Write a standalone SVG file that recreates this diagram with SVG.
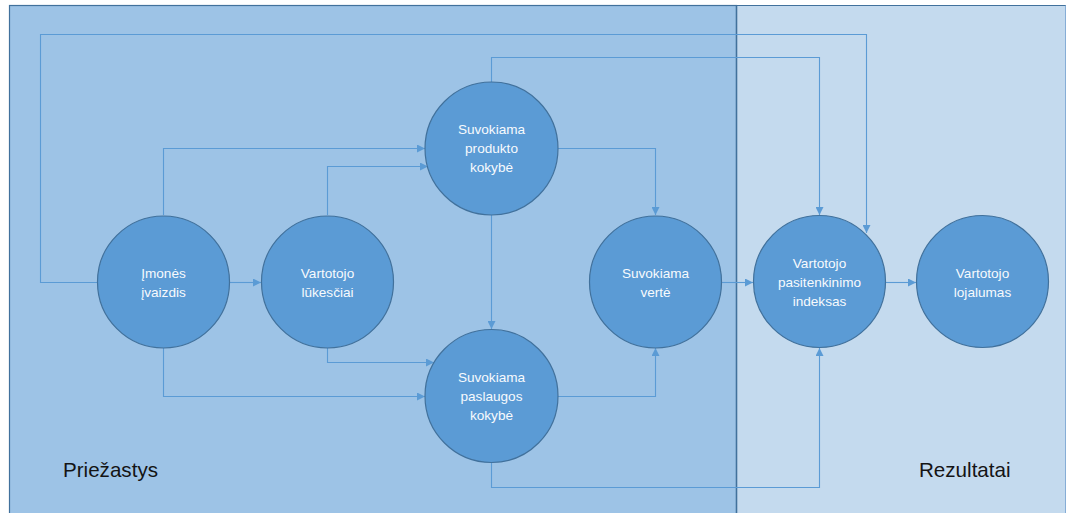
<svg xmlns="http://www.w3.org/2000/svg" width="1068" height="513" viewBox="0 0 1068 513">
  <style>
    .node circle { fill: #5B9BD5; stroke: #41719C; stroke-width: 1.2; }
    .node text { font-family: "Liberation Sans", Arial, sans-serif; font-size: 13.6px; fill: #F7FAFD; text-anchor: middle; }
    .conn path { fill: none; stroke: #5B9BD5; stroke-width: 1.1; marker-end: url(#arr); }
    .title { font-family: "Liberation Sans", Arial, sans-serif; font-size: 20.6px; fill: #141414; }
  </style>
  <defs>
    <marker id="arr" markerUnits="userSpaceOnUse" markerWidth="9" markerHeight="8" refX="8" refY="4" orient="auto">
      <path d="M0,0 L8,4 L0,8 z" fill="#5B9BD5"/>
    </marker>
  </defs>
  <rect x="0" y="0" width="1068" height="513" fill="#FFFFFF"/>
  <g id="panels">
    <rect x="736.5" y="5.5" width="329" height="520" fill="#C4DAEE" stroke="#86ADD6" stroke-width="1"/>
    <rect x="9.5" y="5.5" width="727" height="520" fill="#9DC3E6" stroke="#41719C" stroke-width="1.2"/>
    <line x1="736.5" y1="5.5" x2="1065.5" y2="5.5" stroke="#41719C" stroke-width="1.2"/>
    <line x1="736.5" y1="5.5" x2="736.5" y2="513" stroke="#41719C" stroke-width="1.4"/>
  </g>
  <g class="conn" id="connectors">
    <path d="M98,282.5 H40.5 V34.5 H866.5 V233"/>
    <path d="M163.5,215 V148.5 H425"/>
    <path d="M327.5,215 V166.5 H428"/>
    <path d="M230,282.5 H261"/>
    <path d="M327.5,348 V362.5 H434"/>
    <path d="M163.5,348 V396.5 H425"/>
    <path d="M491.5,82 V57.5 H819.5 V215"/>
    <path d="M557,148.5 H655.5 V215"/>
    <path d="M491.5,215 V329"/>
    <path d="M557,396.5 H655.5 V348"/>
    <path d="M491.5,463 V487.5 H819.5 V348"/>
    <path d="M721,282.5 H753"/>
    <path d="M885,282.5 H916"/>
  </g>
  <g class="node" id="imones-ivaizdis">
    <circle cx="163.5" cy="282" r="66"/>
    <text x="163.5" y="278">Įmonės</text>
    <text x="163.5" y="297">įvaizdis</text>
  </g>
  <g class="node" id="vartotojo-lukesciai">
    <circle cx="327.5" cy="282" r="66"/>
    <text x="327.5" y="278">Vartotojo</text>
    <text x="327.5" y="297">lūkesčiai</text>
  </g>
  <g class="node" id="produkto-kokybe">
    <circle cx="491.5" cy="148.5" r="66.5"/>
    <text x="491.5" y="134">Suvokiama</text>
    <text x="491.5" y="153">produkto</text>
    <text x="491.5" y="172">kokybė</text>
  </g>
  <g class="node" id="paslaugos-kokybe">
    <circle cx="491.5" cy="396" r="66.5"/>
    <text x="491.5" y="382">Suvokiama</text>
    <text x="491.5" y="401">paslaugos</text>
    <text x="491.5" y="420">kokybė</text>
  </g>
  <g class="node" id="suvokiama-verte">
    <circle cx="655.5" cy="282" r="66"/>
    <text x="655.5" y="278">Suvokiama</text>
    <text x="655.5" y="297">vertė</text>
  </g>
  <g class="node" id="pasitenkinimo-indeksas">
    <circle cx="819.5" cy="281.5" r="66"/>
    <text x="819.5" y="267.5">Vartotojo</text>
    <text x="819.5" y="286.5">pasitenkinimo</text>
    <text x="819.5" y="305.5">indeksas</text>
  </g>
  <g class="node" id="vartotojo-lojalumas">
    <circle cx="982.5" cy="281.5" r="66"/>
    <text x="982.5" y="277.5">Vartotojo</text>
    <text x="982.5" y="296.5">lojalumas</text>
  </g>
  <text class="title" x="63" y="477">Priežastys</text>
  <text class="title" x="919" y="477">Rezultatai</text>
</svg>
